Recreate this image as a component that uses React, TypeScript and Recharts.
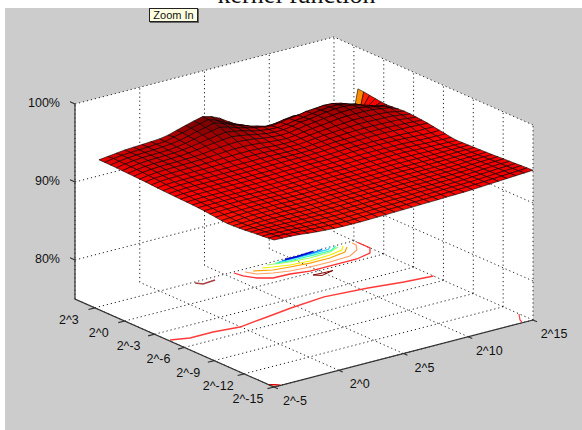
import { Scatter, ScatterChart, XAxis, YAxis } from "recharts";

const cExps = [-5, -4.33, -3.67, -3, -2.33, -1.67, -1, -0.33, 0.33, 1, 1.67, 2.33, 3, 3.67, 4.33, 5, 5.67, 6.33, 7, 7.67, 8.33, 9, 9.67, 10.33, 11, 11.67, 12.33, 13, 13.67, 14.33, 15];
const gammaExps = [-15, -14.41, -13.83, -13.24, -12.65, -12.07, -11.48, -10.89, -10.31, -9.72, -9.13, -8.55, -7.96, -7.37, -6.79, -6.2, -5.61, -5.03, -4.44, -3.85, -3.27, -2.68, -2.09, -1.51, -0.92, -0.33, 0.25, 0.84, 1.43, 2.01, 2.6];

// accuracy in %, one row per gamma, one column per C
const accuracy = [
  [93.85, 93.8, 93.77, 93.7, 93.57, 93.47, 93.4, 93.33, 93.3, 93.3, 93.3, 93.32, 93.35, 93.38, 93.42, 93.45, 93.48, 93.52, 93.55, 93.58, 93.62, 93.65, 93.68, 93.73, 93.8, 93.87, 93.93, 94, 94.07, 94.13, 94.2],
  [93.76, 93.74, 93.68, 93.62, 93.54, 93.46, 93.4, 93.36, 93.33, 93.31, 93.32, 93.35, 93.38, 93.4, 93.43, 93.45, 93.48, 93.52, 93.55, 93.58, 93.62, 93.65, 93.68, 93.72, 93.77, 93.83, 93.9, 93.97, 94.03, 94.08, 94.17],
  [93.68, 93.67, 93.62, 93.59, 93.52, 93.46, 93.41, 93.37, 93.35, 93.32, 93.34, 93.37, 93.39, 93.41, 93.44, 93.46, 93.49, 93.52, 93.55, 93.58, 93.61, 93.64, 93.67, 93.71, 93.74, 93.81, 93.87, 93.94, 94.01, 94.06, 94.13],
  [93.62, 93.61, 93.58, 93.56, 93.5, 93.47, 93.44, 93.4, 93.38, 93.35, 93.38, 93.39, 93.4, 93.43, 93.46, 93.49, 93.5, 93.5, 93.55, 93.59, 93.6, 93.6, 93.64, 93.66, 93.71, 93.78, 93.84, 93.91, 93.98, 94.02, 94.07],
  [93.54, 93.55, 93.54, 93.52, 93.5, 93.47, 93.45, 93.42, 93.4, 93.38, 93.39, 93.41, 93.42, 93.45, 93.48, 93.5, 93.52, 93.53, 93.55, 93.58, 93.6, 93.6, 93.63, 93.66, 93.7, 93.76, 93.81, 93.87, 93.95, 93.98, 94.03],
  [93.45, 93.47, 93.5, 93.5, 93.5, 93.47, 93.45, 93.42, 93.4, 93.4, 93.4, 93.42, 93.45, 93.48, 93.5, 93.5, 93.53, 93.55, 93.55, 93.58, 93.6, 93.6, 93.63, 93.67, 93.7, 93.73, 93.78, 93.85, 93.92, 93.97, 94],
  [93.39, 93.43, 93.47, 93.5, 93.5, 93.49, 93.48, 93.44, 93.43, 93.43, 93.43, 93.44, 93.47, 93.49, 93.51, 93.53, 93.54, 93.55, 93.58, 93.6, 93.6, 93.6, 93.63, 93.66, 93.68, 93.71, 93.75, 93.82, 93.88, 93.91, 93.94],
  [93.34, 93.39, 93.45, 93.5, 93.52, 93.5, 93.5, 93.47, 93.46, 93.46, 93.46, 93.47, 93.51, 93.51, 93.52, 93.56, 93.56, 93.56, 93.6, 93.61, 93.61, 93.61, 93.63, 93.65, 93.65, 93.68, 93.72, 93.79, 93.84, 93.87, 93.89],
  [93.31, 93.39, 93.48, 93.54, 93.55, 93.54, 93.54, 93.5, 93.49, 93.49, 93.49, 93.49, 93.54, 93.54, 93.54, 93.59, 93.59, 93.59, 93.6, 93.63, 93.64, 93.64, 93.65, 93.65, 93.65, 93.68, 93.71, 93.76, 93.8, 93.82, 93.86],
  [93.36, 93.43, 93.5, 93.56, 93.57, 93.56, 93.57, 93.55, 93.53, 93.52, 93.52, 93.52, 93.57, 93.57, 93.57, 93.62, 93.62, 93.62, 93.62, 93.66, 93.67, 93.67, 93.67, 93.67, 93.67, 93.69, 93.71, 93.75, 93.78, 93.8, 93.83],
  [93.45, 93.5, 93.53, 93.55, 93.58, 93.6, 93.6, 93.6, 93.58, 93.55, 93.55, 93.57, 93.6, 93.6, 93.62, 93.65, 93.65, 93.65, 93.65, 93.68, 93.7, 93.7, 93.7, 93.7, 93.7, 93.7, 93.71, 93.75, 93.78, 93.8, 93.8],
  [93.54, 93.56, 93.6, 93.62, 93.63, 93.64, 93.63, 93.63, 93.61, 93.59, 93.6, 93.62, 93.63, 93.65, 93.67, 93.68, 93.68, 93.7, 93.72, 93.73, 93.75, 93.77, 93.77, 93.77, 93.76, 93.74, 93.73, 93.75, 93.77, 93.77, 93.77],
  [93.62, 93.63, 93.65, 93.67, 93.67, 93.67, 93.66, 93.66, 93.65, 93.63, 93.66, 93.67, 93.67, 93.7, 93.71, 93.72, 93.72, 93.74, 93.77, 93.78, 93.8, 93.8, 93.83, 93.83, 93.82, 93.8, 93.77, 93.76, 93.75, 93.74, 93.74],
  [93.68, 93.69, 93.69, 93.72, 93.72, 93.71, 93.69, 93.69, 93.69, 93.68, 93.69, 93.7, 93.73, 93.74, 93.75, 93.78, 93.78, 93.79, 93.83, 93.86, 93.88, 93.89, 93.92, 93.93, 93.92, 93.88, 93.84, 93.81, 93.78, 93.76, 93.71],
  [93.72, 93.74, 93.74, 93.76, 93.76, 93.74, 93.74, 93.74, 93.74, 93.74, 93.74, 93.74, 93.79, 93.79, 93.81, 93.84, 93.84, 93.84, 93.89, 93.93, 93.95, 93.96, 93.99, 94, 93.98, 93.95, 93.92, 93.87, 93.83, 93.8, 93.78],
  [93.75, 93.78, 93.8, 93.8, 93.8, 93.8, 93.8, 93.8, 93.8, 93.8, 93.8, 93.82, 93.85, 93.85, 93.87, 93.9, 93.9, 93.92, 93.95, 93.98, 94.02, 94.05, 94.05, 94.05, 94.05, 94.04, 94, 93.95, 93.92, 93.9, 93.9],
  [93.78, 93.83, 93.86, 93.87, 93.87, 93.87, 93.87, 93.87, 93.87, 93.87, 93.87, 93.89, 93.92, 93.93, 93.93, 93.97, 93.97, 93.98, 94.03, 94.09, 94.14, 94.17, 94.18, 94.18, 94.17, 94.16, 94.13, 94.07, 94.02, 93.98, 94.02],
  [93.81, 93.87, 93.92, 93.92, 93.92, 93.92, 93.92, 93.92, 93.92, 93.92, 93.93, 93.93, 93.97, 93.98, 94, 94.02, 94.02, 94.04, 94.08, 94.15, 94.21, 94.24, 94.25, 94.26, 94.25, 94.24, 94.22, 94.19, 94.13, 94.15, 94.14],
  [93.84, 93.92, 93.98, 93.99, 93.99, 93.99, 93.98, 94, 94, 94, 94.02, 94.04, 94.05, 94.08, 94.1, 94.1, 94.1, 94.14, 94.18, 94.26, 94.32, 94.34, 94.38, 94.42, 94.44, 94.45, 94.43, 94.39, 94.37, 94.32, 94.26],
  [93.87, 93.98, 94.03, 94.05, 94.06, 94.06, 94.06, 94.06, 94.06, 94.08, 94.09, 94.11, 94.14, 94.16, 94.17, 94.14, 94.14, 94.17, 94.24, 94.33, 94.41, 94.44, 94.48, 94.52, 94.55, 94.56, 94.54, 94.49, 94.45, 94.4, 94.34],
  [93.9, 94.05, 94.08, 94.1, 94.13, 94.15, 94.15, 94.15, 94.15, 94.2, 94.2, 94.21, 94.25, 94.25, 94.23, 94.2, 94.2, 94.2, 94.3, 94.4, 94.5, 94.55, 94.62, 94.67, 94.7, 94.7, 94.68, 94.65, 94.62, 94.5, 94.4],
  [93.96, 94.11, 94.17, 94.2, 94.23, 94.24, 94.24, 94.26, 94.28, 94.32, 94.34, 94.36, 94.37, 94.37, 94.32, 94.29, 94.27, 94.26, 94.36, 94.48, 94.59, 94.66, 94.75, 94.82, 94.88, 94.88, 94.85, 94.83, 94.77, 94.62, 94.46],
  [94.01, 94.17, 94.24, 94.28, 94.32, 94.33, 94.34, 94.38, 94.42, 94.46, 94.5, 94.53, 94.53, 94.5, 94.43, 94.35, 94.32, 94.32, 94.42, 94.55, 94.67, 94.78, 94.87, 94.95, 95.06, 95.06, 95.02, 94.97, 94.9, 94.72, 94.48],
  [94.04, 94.21, 94.32, 94.38, 94.41, 94.43, 94.46, 94.5, 94.55, 94.64, 94.71, 94.76, 94.77, 94.72, 94.62, 94.5, 94.42, 94.37, 94.48, 94.65, 94.8, 94.91, 95.04, 95.18, 95.24, 95.27, 95.25, 95.21, 95.03, 94.88, 94.42],
  [94.07, 94.27, 94.38, 94.45, 94.48, 94.5, 94.54, 94.58, 94.66, 94.8, 94.92, 94.99, 95.05, 94.97, 94.85, 94.65, 94.53, 94.45, 94.52, 94.7, 94.88, 95.02, 95.17, 95.3, 95.4, 95.44, 95.43, 95.22, 94.95, 94.75, 94.35],
  [94.1, 94.3, 94.42, 94.5, 94.53, 94.57, 94.6, 94.7, 94.83, 95, 95.13, 95.27, 95.35, 95.22, 95.03, 94.8, 94.62, 94.52, 94.55, 94.72, 94.95, 95.05, 95.22, 95.4, 95.5, 95.53, 95.42, 95.15, 94.8, 94.45, 94.3],
  [94.13, 94.33, 94.47, 94.56, 94.6, 94.63, 94.67, 94.78, 94.93, 95.12, 95.3, 95.47, 95.6, 95.45, 95.22, 94.9, 94.7, 94.55, 94.5, 94.62, 94.82, 94.95, 95.15, 95.3, 95.42, 95.42, 95.25, 94.95, 94.3, 93.9, 94.35],
  [94.16, 94.36, 94.5, 94.6, 94.63, 94.66, 94.7, 94.82, 95, 95.25, 95.5, 95.7, 95.9, 95.65, 95.3, 94.98, 94.72, 94.55, 94.38, 94.55, 94.75, 94.9, 95.1, 95.2, 95.3, 95.25, 95, 94.5, 93.8, 93.6, 94.45],
  [94.19, 94.38, 94.52, 94.6, 94.65, 94.69, 94.78, 94.87, 95.05, 95.3, 95.6, 95.85, 96.12, 95.8, 95.35, 94.96, 94.6, 94.3, 94, 94.05, 94.25, 94.4, 94.35, 94.1, 93.9, 93.5, 93, 92.6, 92.9, 92.8, 94.55],
  [94.2, 94.4, 94.53, 94.6, 94.66, 94.72, 94.8, 94.87, 95.15, 95.4, 95.7, 96, 96.25, 95.85, 95.3, 94.85, 94.4, 93.9, 93.4, 93.3, 93.2, 93.1, 92.8, 92.3, 92, 91.7, 91.3, 90.7, 90.2, 89.7, 94.65],
  [94.2, 94.33, 94.47, 94.6, 94.67, 94.73, 94.8, 94.87, 95.07, 95.4, 95.73, 96.03, 96.3, 96.03, 95.53, 94.8, 94.13, 93.53, 93, 92.6, 92.1, 91.5, 90.83, 90.33, 90, 89.67, 89.33, 89, 88.87, 88.7, 94.7],
];

// contours on the floor, as [log2 C, log2 gamma]
const contourLong = [[-4.89, -4.4], [-3.69, -4.86], [-1.91, -4.85], [-0.05, -5.14], [2.37, -4.7], [4.53, -4.3], [7.36, -3.94], [10.49, -4.29], [12.9, -4.76], [15, -5]];
const contourRed = [[5.61, 2.83], [5.72, 2.07], [6.18, 1.26], [6.96, 0.67], [8.23, 0.61], [9.53, 0.29], [11.31, 0.3], [13.14, 0.28], [14.44, 0.66], [14.99, 1.37], [15, 2.67]];
const contourPeach = [[6.26, 2.57], [6.62, 1.83], [7.51, 1.39], [8.56, 1.04], [9.97, 0.87], [11.5, 0.85], [13.13, 0.97], [14.13, 1.57], [14.65, 2.32], [14.67, 2.76]];
const contourOrange = [[6.76, 2.41], [7.84, 1.82], [9, 1.62], [10.41, 1.44], [11.94, 1.42], [13.33, 1.73], [13.99, 2.37]];
const contourYellow = [[7.53, 2.51], [8.17, 2.25], [9.22, 1.9], [10.63, 1.73], [12.27, 1.85], [13.4, 2.13], [13.9, 2.66]];
const contourLime = [[8.1, 2.75], [9.55, 2.34], [10.96, 2.16], [12.6, 2.28], [13.55, 2.71]];
const contourMint = [[8.71, 2.7], [9.77, 2.5], [11.29, 2.45], [12.82, 2.45], [13.51, 2.9]];
const contourCyan = [[9, 2.75], [10, 2.7], [11.5, 2.68], [12.8, 2.72], [13.16, 3]];
const contourBlue = [[9.3, 2.8], [10.5, 2.78], [11.7, 2.8], [12.5, 2.95]];
const contourNavy = [[9.59, 2.87], [10.5, 2.86], [11.83, 2.98]];
const contourBrown = [[2.61, 2.84], [2.89, 2.4], [3.92, 2.53]];
const contourDark = [[9.24, -0.39], [10.1, -0.47], [10.71, -0.48], [9.63, -0.79], [9.24, -0.39]];
const contourEdge = [[14.98, -13.62], [14.37, -14.51], [14.24, -14.88]];
const contourCorner = [[-5, -14.5], [-4.7, -14.7], [-4.5, -15]];

const contours: [number[][], string, number][] = [
  [contourLong, "#ff3a3a", 1.4],
  [contourRed, "#ff3030", 1.3],
  [contourPeach, "#ffa060", 1.2],
  [contourOrange, "#ffa000", 1.2],
  [contourYellow, "#f0f000", 1.2],
  [contourLime, "#a0ff60", 1.2],
  [contourMint, "#30ffc0", 1.2],
  [contourCyan, "#30d0ff", 1.2],
  [contourBlue, "#0070ff", 1.2],
  [contourNavy, "#0000d0", 1.4],
  [contourBrown, "#a84040", 1.6],
  [contourDark, "#800000", 1],
  [contourEdge, "#ff4040", 1.2],
  [contourCorner, "#e00000", 1.5],
];

const cTicks = [-5, 0, 5, 10, 15];
const gammaTicks = [3, 0, -3, -6, -9, -12, -15];
const zTicks = [80, 90, 100];

const C_MIN = -5;
const C_MAX = 15;
const G_MIN = -15;
const G_MAX = 5;
const Z_MIN = 75;
const Z_MAX = 100;

// 3D view, worked out from the box corners of the picture
const project = (c: number, g: number, z: number) => ({
  x: 274 + (c - C_MIN) * 12.95 - (g - G_MIN) * 9.95,
  y: 387 - (c - C_MIN) * 3.35 - (g - G_MIN) * 4.4 - (z - Z_MIN) * 7.8,
});

const jet = (z: number) => {
  if (z >= 93.8) {
    const r = Math.max(128, 255 - (z - 93.8) * 63.5);
    return `rgb(${Math.round(r)},0,0)`;
  }
  const g = Math.min(255, (93.8 - z) * 34);
  return `rgb(255,${Math.round(g)},0)`;
};

type Pt = { x: number; y: number };

const polygonDatum = (pts: Pt[], fill: string, stroke: string) => {
  const x = pts.reduce((s, p) => s + p.x, 0) / pts.length;
  const y = pts.reduce((s, p) => s + p.y, 0) / pts.length;
  return { x, y, fill, stroke, corners: pts.map((p) => [p.x - x, p.y - y]) };
};

// axes are 1:1 with the pixels, so corners are offsets from the point's centre
const PolygonShape = ({ cx, cy, payload }: any) => (
  <polygon
    points={payload.corners.map((p: number[]) => `${cx + p[0]},${cy + p[1]}`).join(" ")}
    fill={payload.fill}
    stroke={payload.stroke}
    strokeWidth={0.6}
    strokeLinejoin="round"
  />
);

const TextShape = ({ cx, cy, payload }: any) => (
  <text
    x={cx}
    y={cy}
    textAnchor={payload.anchor}
    dominantBaseline={payload.baseline ?? "central"}
    fontFamily={payload.font ?? "'Liberation Sans', Arial, sans-serif"}
    fontSize={payload.size ?? 12.5}
    fill="#111"
  >
    {payload.label}
  </text>
);

const NoDot = () => null;

const walls = [
  polygonDatum(
    [
      project(C_MIN, G_MAX, Z_MAX),
      project(C_MAX, G_MAX, Z_MAX),
      project(C_MAX, G_MIN, Z_MAX),
      project(C_MAX, G_MIN, Z_MIN),
      project(C_MIN, G_MIN, Z_MIN),
      project(C_MIN, G_MAX, Z_MIN),
    ],
    "#fff",
    "none",
  ),
];

const gridLines: Pt[][] = [];
cTicks.forEach((c) => {
  gridLines.push([project(c, G_MIN, Z_MIN), project(c, G_MAX, Z_MIN)]);
  gridLines.push([project(c, G_MAX, Z_MIN), project(c, G_MAX, Z_MAX)]);
});
gammaTicks.forEach((g) => {
  gridLines.push([project(C_MIN, g, Z_MIN), project(C_MAX, g, Z_MIN)]);
  gridLines.push([project(C_MAX, g, Z_MIN), project(C_MAX, g, Z_MAX)]);
});
zTicks.forEach((z) => {
  gridLines.push([project(C_MIN, G_MAX, z), project(C_MAX, G_MAX, z), project(C_MAX, G_MIN, z)]);
});

const axisLines: Pt[][] = [
  [project(C_MIN, G_MAX, Z_MAX), project(C_MIN, G_MAX, Z_MIN), project(C_MIN, G_MIN, Z_MIN), project(C_MAX, G_MIN, Z_MIN)],
  ...zTicks.map((z) => [project(C_MIN, G_MAX, z), project(C_MIN, G_MAX + 0.5, z)]),
  ...gammaTicks.map((g) => [project(C_MIN, g, Z_MIN), project(C_MIN - 0.5, g, Z_MIN)]),
  ...cTicks.map((c) => [project(c, G_MIN, Z_MIN), project(c, G_MIN - 0.4, Z_MIN)]),
];

// painter's order, the far corner of the surface first
const surfaceCells: ReturnType<typeof polygonDatum>[] = [];
for (let i = cExps.length - 2; i >= 0; i--) {
  for (let j = gammaExps.length - 2; j >= 0; j--) {
    surfaceCells.push(
      polygonDatum(
        [
          project(cExps[i], gammaExps[j], accuracy[j][i]),
          project(cExps[i + 1], gammaExps[j], accuracy[j][i + 1]),
          project(cExps[i + 1], gammaExps[j + 1], accuracy[j + 1][i + 1]),
          project(cExps[i], gammaExps[j + 1], accuracy[j + 1][i]),
        ],
        jet(accuracy[j][i]),
        "#000",
      ),
    );
  }
}

const labels = [
  { x: 296.5, y: 3, label: "kernel function", anchor: "middle", baseline: "auto", size: 26, font: "'Liberation Serif', 'Times New Roman', serif" },
  ...zTicks.map((z) => {
    const p = project(C_MIN, G_MAX, z);
    return { x: 60, y: p.y - 1.5, label: `${z}%`, anchor: "end" };
  }),
  ...gammaTicks.map((g) => {
    const p = project(C_MIN, g, Z_MIN);
    return { x: p.x - 26, y: p.y + 12, label: `2^${g}`, anchor: "middle" };
  }),
  ...cTicks.map((c) => {
    const p = project(c, G_MIN, Z_MIN);
    return { x: p.x + 21, y: p.y + 14, label: `2^${c}`, anchor: "middle" };
  }),
];

const W = 582;
const H = 430;

export default function App() {
  return (
    <div style={{ position: "absolute", left: 0, top: 0, width: W, height: H, background: "#fff", overflow: "hidden" }}>
      <div style={{ position: "absolute", left: 5, top: 8, right: 0, bottom: 0, background: "#cccccc" }} />
      <div style={{ position: "absolute", left: 0, top: 0 }}>
        <ScatterChart width={W} height={H} margin={{ top: 0, right: 0, bottom: 0, left: 0 }}>
          <XAxis type="number" dataKey="x" domain={[0, W]} hide />
          <YAxis type="number" dataKey="y" domain={[0, H]} reversed hide />
          <Scatter data={walls} shape={PolygonShape} isAnimationActive={false} />
          {gridLines.map((pts, i) => (
            <Scatter
              key={`grid-${i}`}
              data={pts}
              shape={NoDot}
              line={{ stroke: "#222", strokeWidth: 1, strokeDasharray: "1.2 2.9" }}
              isAnimationActive={false}
            />
          ))}
          {contours.map(([pts, color, width], i) => (
            <Scatter
              key={`contour-${i}`}
              data={pts.map(([c, g]) => project(c, g, Z_MIN))}
              shape={NoDot}
              line={{ stroke: color, strokeWidth: width }}
              isAnimationActive={false}
            />
          ))}
          {axisLines.map((pts, i) => (
            <Scatter
              key={`axis-${i}`}
              data={pts}
              shape={NoDot}
              line={{ stroke: "#333", strokeWidth: 1.2 }}
              isAnimationActive={false}
            />
          ))}
          <Scatter data={surfaceCells} shape={PolygonShape} isAnimationActive={false} />
          <Scatter data={labels} shape={TextShape} isAnimationActive={false} />
        </ScatterChart>
      </div>
      <div
        style={{
          position: "absolute",
          left: 149,
          top: 8,
          width: 47,
          height: 12,
          background: "#ffffe1",
          border: "1px solid #222",
          boxShadow: "1px 1px 0 #666",
          fontFamily: "'Liberation Sans', Arial, sans-serif",
          fontSize: 11,
          lineHeight: "12px",
          textAlign: "center",
          color: "#111",
        }}
      >
        Zoom In
      </div>
    </div>
  );
}
